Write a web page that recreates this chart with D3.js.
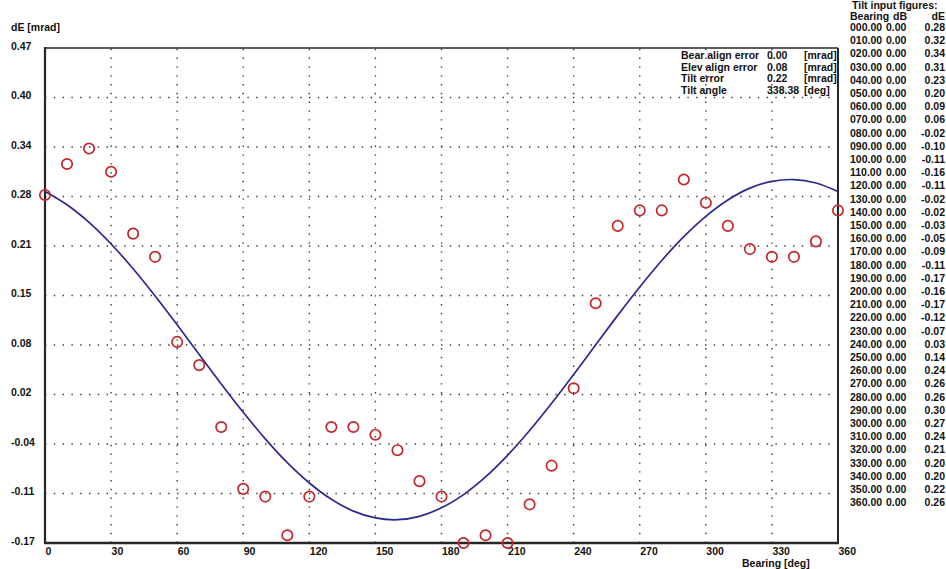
<!DOCTYPE html>
<html><head><meta charset="utf-8">
<script src="https://cdn.jsdelivr.net/npm/d3@7"></script>
<style>
body{margin:0;background:#fff}
svg text{font-family:"Liberation Sans",Arial,sans-serif;font-weight:bold;font-size:10.5px;fill:#111}
</style>
</head><body>
<svg id="c" width="946" height="569"></svg>
<script>
// ---- data ----
const bearings = [0,10,20,30,40,50,60,70,80,90,100,110,120,130,140,150,160,170,180,190,200,210,220,230,240,250,260,270,280,290,300,310,320,330,340,350,360];
const dBValues = [0,0,0,0,0,0,0,0,0,0,0,0,0,0,0,0,0,0,0,0,0,0,0,0,0,0,0,0,0,0,0,0,0,0,0,0,0];
const dEValues = [0.28,0.32,0.34,0.31,0.23,0.20,0.09,0.06,-0.02,-0.10,-0.11,-0.16,-0.11,-0.02,-0.02,-0.03,-0.05,-0.09,-0.11,-0.17,-0.16,-0.17,-0.12,-0.07,0.03,0.14,0.24,0.26,0.26,0.30,0.27,0.24,0.21,0.20,0.20,0.22,0.26];
// fitted curve, every 10 deg
const curveBearings = [0,10,20,30,40,50,60,70,80,90,100,110,120,130,140,150,160,170,180,190,200,210,220,230,240,250,260,270,280,290,300,310,320,330,340,350,360];
const curveValues = [0.2845,0.2673,0.2445,0.2166,0.1846,0.1494,0.1121,0.0738,0.0357,-0.0010,-0.0353,-0.0661,-0.0924,-0.1135,-0.1288,-0.1376,-0.1399,-0.1355,-0.1245,-0.1074,-0.0845,-0.0566,-0.0246,0.0106,0.0479,0.0862,0.1243,0.1610,0.1953,0.2261,0.2524,0.2735,0.2888,0.2976,0.2999,0.2955,0.2845];
const xTickValues = [0,30,60,90,120,150,180,210,240,270,300,330,360];
const yTickValues = [-0.17,-0.106,-0.042,0.022,0.086,0.15,0.214,0.278,0.342,0.406,0.47];
const yTickLabels = ["-0.17","-0.11","-0.04","0.02","0.08","0.15","0.21","0.28","0.34","0.40","0.47"];
const legendLabels = ["Bear align error","Elev align error","Tilt error","Tilt angle"];
const legendValues = ["0.00","0.08","0.22","338.38"];
const legendUnits = ["[mrad]","[mrad]","[mrad]","[deg]"];

// ---- layout ----
const L = 45, R = 838, T = 48, B = 543;
const svg = d3.select("#c");
const x = d3.scaleLinear().domain([0,360]).range([L,R]);
const y = d3.scaleLinear().domain([-0.17,0.47]).range([B,T]);

// grid
const grid = svg.append("g").attr("stroke","#3a3a3a").attr("stroke-width",1.4).attr("stroke-dasharray","1.4 7.4");
grid.selectAll("line.h").data(yTickValues.slice(1,-1)).join("line")
  .attr("x1",L).attr("x2",R).attr("y1",d=>y(d)).attr("y2",d=>y(d));
grid.selectAll("line.v").data(xTickValues.slice(1,-1)).join("line")
  .attr("y1",B).attr("y2",T).attr("x1",d=>x(d)).attr("x2",d=>x(d));

// axes (labels)
const gx = svg.append("g").attr("transform",`translate(0,${B})`)
  .call(d3.axisBottom(x).tickValues(xTickValues).tickSize(0).tickFormat(d3.format("d")));
gx.select(".domain").remove();
gx.selectAll("text").attr("text-anchor","start").attr("y",12).attr("dy",0).attr("x",0);

const gy = svg.append("g").attr("transform",`translate(${L},0)`)
  .call(d3.axisLeft(y).tickValues(yTickValues).tickSize(0).tickFormat((d,i)=>yTickLabels[i]));
gy.select(".domain").remove();
gy.selectAll("text").attr("text-anchor","start").attr("x",11-L).attr("dy",1);
svg.selectAll(".tick text").attr("font-family",null).attr("font-size",null).attr("fill",null);

// frame
const fr = svg.append("g").attr("stroke","#262626");
fr.append("line").attr("x1",L).attr("x2",R).attr("y1",T).attr("y2",T).attr("stroke-width",1.3);
fr.append("line").attr("x1",R).attr("x2",R).attr("y1",T).attr("y2",B).attr("stroke-width",2);
fr.append("line").attr("x1",L).attr("x2",L).attr("y1",T-1).attr("y2",B+1).attr("stroke-width",2.2);
fr.append("line").attr("x1",L-1).attr("x2",R+1).attr("y1",B).attr("y2",B).attr("stroke-width",2.4);

// fitted curve
const curveData = curveBearings.map((b,i)=>({b, v:curveValues[i]}));
svg.append("path").datum(curveData)
  .attr("fill","none").attr("stroke","#2b2b8e").attr("stroke-width",1.7)
  .attr("d", d3.line().x(d=>x(d.b)).y(d=>y(d.v)).curve(d3.curveCatmullRom));

// measured points
svg.append("g").selectAll("circle").data(bearings.map((b,i)=>({b, v:dEValues[i]}))).join("circle")
  .attr("cx",d=>x(d.b)).attr("cy",d=>y(d.v)).attr("r",5.2)
  .attr("fill","none").attr("stroke","#c4262c").attr("stroke-width",1.7);

// axis titles
svg.append("text").attr("x",11).attr("y",31).text("dE [mrad]");
svg.append("text").attr("x",742).attr("y",567).text("Bearing [deg]");

// legend
const lg = svg.append("g");
legendLabels.forEach((t,i)=>{
  const yy = 59 + i*11.7;
  lg.append("text").attr("x",681).attr("y",yy).text(t);
  lg.append("text").attr("x",767).attr("y",yy).text(legendValues[i]);
  lg.append("text").attr("x",804).attr("y",yy).text(legendUnits[i]);
});

// tilt input table
const tb = svg.append("g").style("font-size","10.8px");
tb.append("text").attr("x",852).attr("y",9).text("Tilt input figures:");
tb.append("text").attr("x",850).attr("y",20).text("Bearing");
tb.append("text").attr("x",893).attr("y",20).text("dB");
tb.append("text").attr("x",945).attr("y",20).attr("text-anchor","end").text("dE");
const pad = b => { const s = b.toFixed(2); return "000000".slice(0, 6 - s.length) + s; };
bearings.forEach((b,i)=>{
  const yy = 31 + i*13.2;
  tb.append("text").attr("x",850).attr("y",yy).text(pad(b));
  tb.append("text").attr("x",886).attr("y",yy).text(dBValues[i].toFixed(2));
  tb.append("text").attr("x",945).attr("y",yy).attr("text-anchor","end").text(dEValues[i].toFixed(2));
});
</script>
</body></html>
